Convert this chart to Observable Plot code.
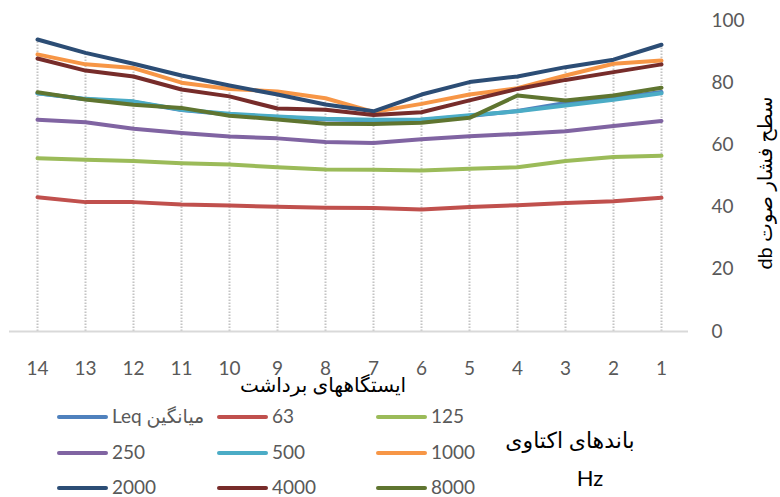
<!DOCTYPE html>
<html>
<head>
<meta charset="utf-8">
<script src="https://cdn.jsdelivr.net/npm/d3@7"></script>
<script src="https://cdn.jsdelivr.net/npm/@observablehq/plot@0.6"></script>
<style>
  body { margin: 0; background: #fff; }
  #wrap { position: relative; width: 780px; height: 497px; font-family: Lato, "DejaVu Sans", sans-serif; overflow: hidden; }
  #chart { position: absolute; left: 0; top: 0; }
  .leg { position: absolute; font-size: 19px; color: #595959; line-height: 1; white-space: nowrap; }
  .sw { position: absolute; height: 4px; border-radius: 2px; }
  .ttl { position: absolute; color: #000; white-space: nowrap; line-height: 1; transform: translate(-50%, -50%); }
</style>
</head>
<body>
<div id="wrap"><div id="chart"></div></div>
<script>
// Stations (x categories), displayed right-to-left 14..1
const stations = [1, 2, 3, 4, 5, 6, 7, 8, 9, 10, 11, 12, 13, 14];
const yTicks = [0, 20, 40, 60, 80, 100];

// Series values, station 1 -> 14
const leq   = [77.0, 75.0, 73.5, 70.9, 69.3, 68.0, 67.9, 68.2, 69.0, 69.8, 71.2, 73.8, 74.7, 76.6];
const hz63  = [43.0, 41.9, 41.3, 40.6, 40.0, 39.2, 39.7, 39.8, 40.1, 40.5, 40.8, 41.6, 41.6, 43.2];
const hz125 = [56.5, 56.1, 54.8, 52.8, 52.3, 51.8, 52.0, 52.1, 52.8, 53.7, 54.1, 54.8, 55.2, 55.7];
const hz250 = [67.7, 66.1, 64.4, 63.5, 62.8, 61.8, 60.6, 60.9, 62.1, 62.7, 63.8, 65.2, 67.3, 68.1];
const hz500 = [76.6, 74.5, 72.7, 70.8, 69.5, 68.2, 68.1, 68.4, 69.1, 70.0, 71.3, 74.0, 74.8, 76.6];
const hz1000 = [87.1, 86.1, 82.3, 78.2, 76.2, 73.2, 70.6, 75.0, 77.2, 78.0, 80.0, 84.7, 85.9, 89.1];
const hz2000 = [92.2, 87.4, 85.0, 82.0, 80.2, 76.2, 70.8, 73.0, 76.2, 79.1, 82.3, 86.1, 89.6, 93.9];
const hz4000 = [85.9, 83.4, 80.9, 78.0, 74.3, 70.5, 69.6, 71.3, 71.7, 75.6, 77.8, 82.0, 83.9, 87.8];
const hz8000 = [78.4, 75.9, 74.3, 75.9, 68.7, 67.1, 66.7, 66.8, 68.2, 69.4, 71.9, 72.9, 74.6, 76.9];

const seriesNames = ["Leq میانگین", "63", "125", "250", "500", "1000", "2000", "4000", "8000"];
const seriesValues = [leq, hz63, hz125, hz250, hz500, hz1000, hz2000, hz4000, hz8000];
const seriesColors = ["#4F81BD", "#C0504D", "#9BBB59", "#8064A2", "#4BACC6", "#F79646", "#2C4D75", "#772C2A", "#5F7530"];

const xTitle = "ایستگاههای برداشت";
const yTitle = "db سطح فشار صوت";
const legendTitle = "باندهای اکتاوی";
const legendUnit = "Hz";

const rows = [];
seriesNames.forEach((name, si) => {
  stations.forEach((st, i) => rows.push({series: name, station: st, value: seriesValues[si][i]}));
});
const drops = stations.map((st, i) => ({station: st, top: d3.max(seriesValues, v => v[i])}));

const font = 'Lato, "DejaVu Sans", sans-serif';

const chart = Plot.plot({
  width: 780,
  height: 400,
  marginLeft: 9,
  marginRight: 92,
  marginTop: 20,
  marginBottom: 69,
  style: {fontFamily: font, fontSize: "19px", background: "transparent"},
  x: {type: "point", domain: stations.slice().reverse(), padding: 0.5},
  y: {domain: [0, 100]},
  color: {domain: seriesNames, range: seriesColors},
  marks: [
    Plot.ruleX(drops, {x: "station", y1: 0, y2: "top", stroke: "#c4c4c4", strokeWidth: 2, strokeDasharray: "1.5,1.5"}),
    Plot.ruleY([0], {stroke: "#d9d9d9", strokeWidth: 2}),
    Plot.line(rows, {x: "station", y: "value", z: "series", stroke: "series", strokeWidth: 4, strokeLinecap: "round", strokeLinejoin: "round"}),
    Plot.axisX({ticks: stations, tickSize: 0, tickPadding: 30, fill: "#595959", fontSize: 19, label: null}),
    Plot.axisY({anchor: "right", ticks: yTicks, tickSize: 0, tickPadding: 23, fill: "#595959", fontSize: 19, label: null}),
    Plot.text([xTitle], {frameAnchor: "bottom", dx: -26, dy: 54, text: d => d, fill: "#000", fontSize: 20, lineAnchor: "middle"}),
    Plot.text([yTitle], {frameAnchor: "right", dx: 77, dy: 7, text: d => d, rotate: -90, textAnchor: "middle", fill: "#000", fontSize: 20, lineAnchor: "middle"})
  ]
});
document.getElementById("chart").appendChild(chart);

// Legend below the plot
const wrap = document.getElementById("wrap");
const colX = [57, 217, 376];
const rowY = [417, 453, 488];
seriesNames.forEach((name, i) => {
  const c = i % 3, r = Math.floor(i / 3);
  const sw = document.createElement("div");
  sw.className = "sw";
  sw.style.left = colX[c] + "px";
  sw.style.width = "51px";
  sw.style.top = (rowY[r] - 2) + "px";
  sw.style.background = seriesColors[i];
  wrap.appendChild(sw);
  const t = document.createElement("div");
  t.className = "leg";
  t.style.left = (colX[c] + 55) + "px";
  t.style.top = (rowY[r] - 11) + "px";
  t.style.direction = "ltr";
  t.textContent = name;
  wrap.appendChild(t);
});
const lt = document.createElement("div");
lt.className = "ttl";
lt.style.fontSize = "22px";
lt.style.left = "570px"; lt.style.top = "440px";
lt.textContent = legendTitle;
wrap.appendChild(lt);
const lu = document.createElement("div");
lu.className = "ttl";
lu.style.fontSize = "22px";
lu.style.left = "590px"; lu.style.top = "478px";
lu.textContent = legendUnit;
wrap.appendChild(lu);
</script>
</body>
</html>
